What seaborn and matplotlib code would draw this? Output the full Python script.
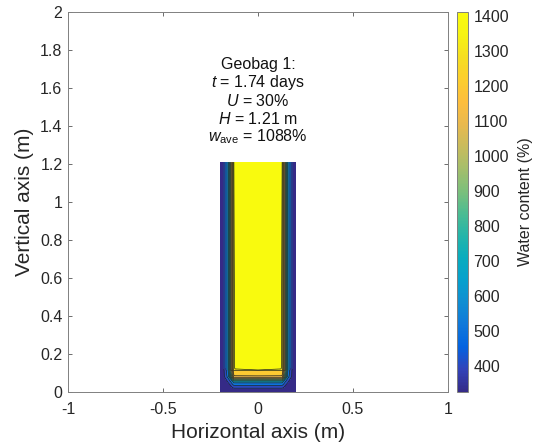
import numpy as np
import matplotlib
matplotlib.use("Agg")
import matplotlib.pyplot as plt
import seaborn as sns
from matplotlib.colors import LinearSegmentedColormap, Normalize
from matplotlib.cm import ScalarMappable

# ---- data ----
bag_half_width = 0.2           # m
bag_height = 1.21              # m
# water content vs distance from a side wall (m)
side_dist = [0.0, 0.021, 0.042, 0.065, 0.07, 0.073, 0.08]
side_w = [330, 400, 600, 1150, 1300, 1400, 1405]
# water content vs distance from the bottom (m)
bot_dist = [0.0, 0.02, 0.055, 0.08, 0.085, 0.113, 0.116, 0.125]
bot_w = [330, 400, 650, 1150, 1200, 1300, 1400, 1405]
w_core = 1408
w_min, w_max = 326, 1411
levels = [326, 400, 500, 600, 700, 800, 900, 1000, 1100, 1200, 1300, 1400, 1411]
cbar_ticks = [400, 500, 600, 700, 800, 900, 1000, 1100, 1200, 1300, 1400]
x_ticks = [-1, -0.5, 0, 0.5, 1]
x_ticklabels = ["-1", "-0.5", "0", "0.5", "1"]
y_ticks = [0, 0.2, 0.4, 0.6, 0.8, 1, 1.2, 1.4, 1.6, 1.8, 2]
y_ticklabels = ["0", "0.2", "0.4", "0.6", "0.8", "1", "1.2", "1.4", "1.6", "1.8", "2"]
annot_lines = ["Geobag 1:", r"$t$ = 1.74 days", r"$U$ = 30%", r"$H$ = 1.21 m",
               r"$w_{\mathrm{ave}}$ = 1088%"]

# ---- parula-like colormap ----
parula_pts = [
    (0.2081, 0.1663, 0.5292), (0.1959, 0.2645, 0.7279), (0.0117, 0.3875, 0.8820),
    (0.0629, 0.4737, 0.8554), (0.0641, 0.5570, 0.8240), (0.0239, 0.6287, 0.8038),
    (0.0384, 0.6743, 0.7436), (0.1453, 0.7098, 0.6646), (0.3022, 0.7376, 0.5712),
    (0.4871, 0.7491, 0.4840), (0.6473, 0.7456, 0.4188), (0.7858, 0.7356, 0.3633),
    (0.9139, 0.7258, 0.3063), (0.9938, 0.7455, 0.2403), (0.9880, 0.8066, 0.1794),
    (0.9626, 0.8705, 0.1309), (0.9661, 0.9514, 0.0755), (0.9763, 0.9831, 0.0538)]
parula = LinearSegmentedColormap.from_list("parula", parula_pts, N=256)

sns.set_theme(style="white")
plt.rcParams["font.family"] = ["Liberation Sans", "DejaVu Sans"]
plt.rcParams["mathtext.fontset"] = "custom"
plt.rcParams["mathtext.rm"] = "Liberation Sans"
plt.rcParams["mathtext.it"] = "Liberation Sans:italic"

# ---- build grid from profiles ----
xs = [-bag_half_width + d for d in side_dist] + [0.0] + [bag_half_width - d for d in side_dist[::-1]]
xv = side_w + [w_core] + side_w[::-1]
ys = bot_dist + [bag_height]
yv = bot_w + [w_core]
gx = (np.array(xv) - w_min) / (w_core - w_min)
gy = (np.array(yv) - w_min) / (w_core - w_min)
X, Y = np.meshgrid(xs, ys)
Z = w_min + (w_core - w_min) * np.outer(gy, gx)

norm = Normalize(w_min, w_max)
band_colors = [parula(norm(l)) for l in levels[:-1]]

fig = plt.figure(figsize=(5.42, 4.46), dpi=100)
ax = fig.add_axes([68 / 542, 54 / 446, 380 / 542, 380 / 446])
cax = fig.add_axes([457 / 542, 54 / 446, 11 / 542, 380 / 446])

ax.contourf(X, Y, Z, levels=levels, colors=band_colors)
ax.contour(X, Y, Z, levels=levels[1:-1], colors="#222222", linewidths=0.5)

ax.set_xlim(-1, 1)
ax.set_ylim(0, 2)
ax.set_xticks(x_ticks)
ax.set_xticklabels(x_ticklabels)
ax.set_yticks(y_ticks)
ax.set_yticklabels(y_ticklabels)
ax.tick_params(direction="in", length=3, width=0.6, color="#555555", labelsize=11.5,
               labelcolor="#262626", top=True, right=True, bottom=True, left=True, pad=4)
ax.tick_params(axis="x", pad=7)
for s in ax.spines.values():
    s.set_color("#808080")
    s.set_linewidth(0.7)
ax.set_xlabel("Horizontal axis (m)", fontsize=15, color="#262626")
ax.set_ylabel("Vertical axis (m)", fontsize=15, color="#262626")
ax.xaxis.set_label_coords(0.5, -0.082)
ax.yaxis.set_label_coords(-0.089, 0.5)

ypos = [1.722, 1.627, 1.53, 1.435, 1.345]
for t, yy in zip(annot_lines, ypos):
    ax.text(0, yy, t, ha="center", va="center", fontsize=11.5, color="#111111")

sm = ScalarMappable(norm=norm, cmap=parula)
cb = fig.colorbar(sm, cax=cax)
cb.set_ticks(cbar_ticks)
cb.ax.tick_params(direction="in", length=3, width=0.6, color="#555555", labelsize=11.5,
                  labelcolor="#262626", pad=4)
cb.outline.set_edgecolor("#808080")
cb.outline.set_linewidth(0.7)
cb.set_label("Water content (%)", fontsize=11.5, color="#262626", labelpad=6)

fig.savefig("out.png", dpi=100)
